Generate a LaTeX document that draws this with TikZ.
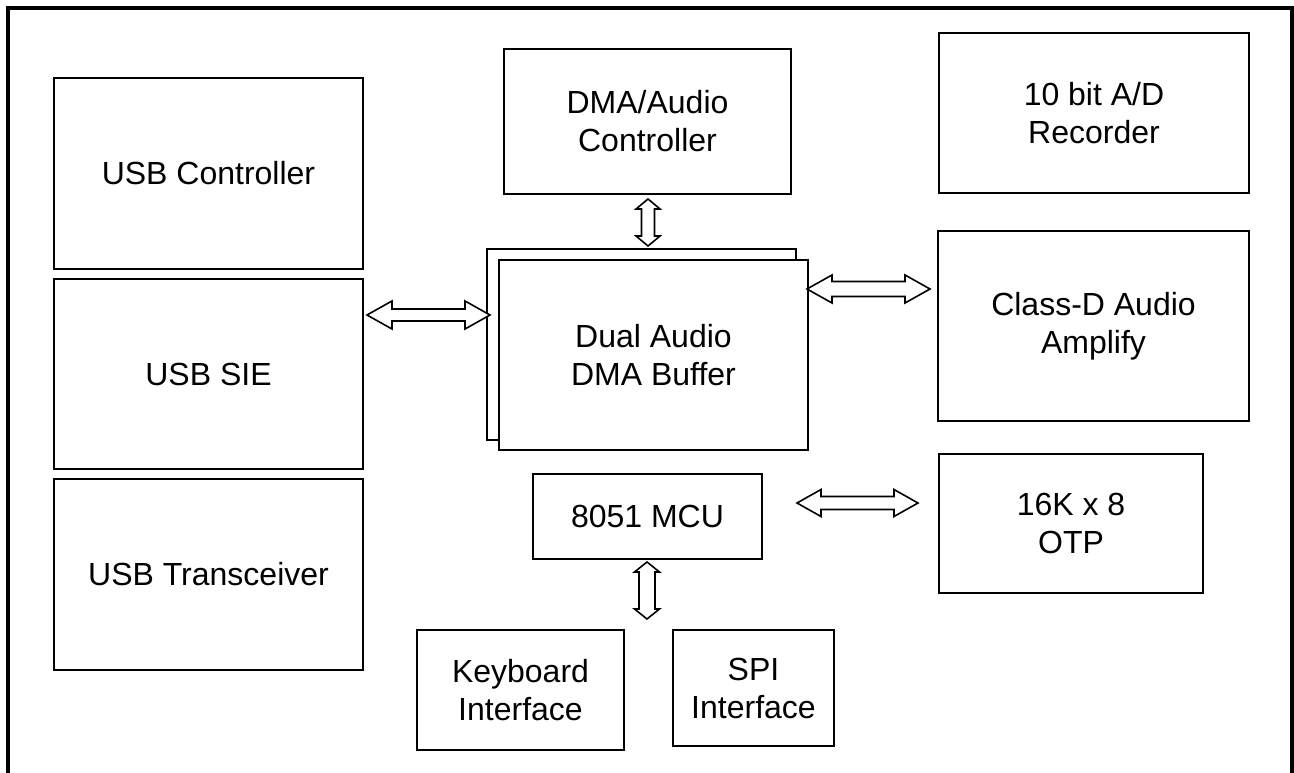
\documentclass[tikz,border=0pt]{standalone}
\usepackage{fontspec}
\setmainfont{Liberation Sans}
\usetikzlibrary{calc}
\newcommand\dblH[5]{\draw[arrowline] (#1) -- ++(#5,-#4) -- ++(0,#4-#3) -- ($(#2)+(-#5,-#3)$) -- ++(0,#3-#4) -- (#2) -- ++(-#5,#4) -- ++(0,#3-#4) -- ($(#1)+(#5,#3)$) -- ++(0,#4-#3) -- cycle;}
\newcommand\dblV[5]{\draw[arrowline] (#1) -- ++(-#4,#5) -- ++(#4-#3,0) -- ($(#2)+(-#3,-#5)$) -- ++(#3-#4,0) -- (#2) -- ++(#4,-#5) -- ++(#3-#4,0) -- ($(#1)+(#3,#5)$) -- ++(#4-#3,0) -- cycle;}
\begin{document}
\begin{tikzpicture}[x=1pt,y=-1pt,
  blk/.style={draw, line width=1.6pt, fill=white, rectangle, inner sep=0pt, align=center,
    font=\fontsize{32}{38}\selectfont},
  arrowline/.style={draw, line width=1.6pt, fill=white, line join=miter}]
\useasboundingbox (0,0) rectangle (1294,773);
\fill[white] (0,0) rectangle (1294,773);
% outer frame (open at the bottom)
\draw[line width=4pt] (8,780) -- (8,8) -- (1292,8) -- (1292,780);
% left column
\node[blk, minimum width=309pt, minimum height=191pt] (usbctrl) at (208.5,173.5) {USB Controller};
\node[blk, minimum width=309pt, minimum height=190pt] (usbsie) at (208.5,374) {USB SIE};
\node[blk, minimum width=309pt, minimum height=191pt] (usbtrx) at (208.5,574.5) {USB Transceiver};
% centre column
\node[blk, minimum width=287pt, minimum height=145pt] (dma) at (647.5,121.5) {DMA/Audio\\Controller};
\node[blk, minimum width=309pt, minimum height=191pt] (bufback) at (641.5,344.5) {};
\node[blk, minimum width=309pt, minimum height=190pt] (buf) at (653.5,355) {Dual Audio\\DMA Buffer};
\node[blk, minimum width=229pt, minimum height=85pt] (mcu) at (647.5,516.5) {8051 MCU};
\node[blk, minimum width=207pt, minimum height=120pt] (kbd) at (520.5,690) {Keyboard\\Interface};
\node[blk, minimum width=161pt, minimum height=116pt] (spi) at (753.5,688) {SPI\\Interface};
% right column
\node[blk, minimum width=310pt, minimum height=160pt] (adc) at (1094,113) {10 bit A/D\\Recorder};
\node[blk, minimum width=311pt, minimum height=190pt] (classd) at (1093.5,326) {Class-D Audio\\Amplify};
\node[blk, minimum width=264pt, minimum height=139pt] (otp) at (1071,523.5) {16K x 8\\OTP};
% arrow end points
\coordinate (sieR) at (367,315);
\coordinate (bufL) at (490,315);
\coordinate (bufR) at (807,289);
\coordinate (clsL) at (930,289);
\coordinate (mcuR) at (797,503);
\coordinate (otpL) at (918,503);
\coordinate (dmaB) at (648,199);
\coordinate (bufT) at (648,246);
\coordinate (mcuB) at (647,562);
\coordinate (kbdT) at (647,619);
% double arrows
\dblH{sieR}{bufL}{6}{14}{25}
\dblH{bufR}{clsL}{7.5}{14}{25}
\dblH{mcuR}{otpL}{6.5}{13.5}{24}
\dblV{dmaB}{bufT}{6.5}{12}{10}
\dblV{mcuB}{kbdT}{8}{12.5}{10}
\end{tikzpicture}
\end{document}
